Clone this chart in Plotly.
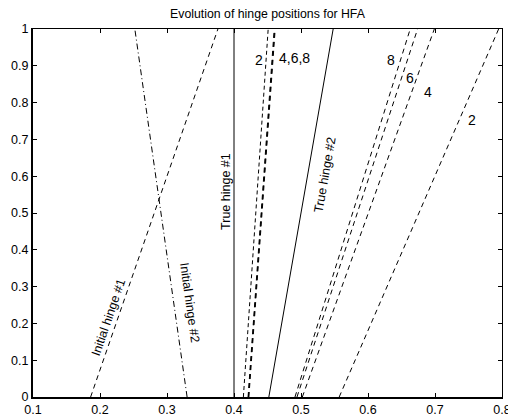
import plotly.graph_objects as go

# ---------------- data ----------------
line_names = [
    "Initial hinge #1", "Initial hinge #2", "True hinge #1", "True hinge #2",
    "Hinge #1 iter 2", "Hinge #1 iter 4", "Hinge #1 iter 6", "Hinge #1 iter 8",
    "Hinge #2 iter 2", "Hinge #2 iter 4", "Hinge #2 iter 6", "Hinge #2 iter 8",
]
x_at_bottom = [0.186, 0.330, 0.400, 0.452, 0.414, 0.4210, 0.4215, 0.4222, 0.557, 0.502, 0.494, 0.491]
x_at_top    = [0.376, 0.252, 0.400, 0.548, 0.451, 0.4600, 0.4608, 0.4615, 0.795, 0.699, 0.674, 0.663]
y_span = [0.0, 1.0]

x_ticks = [0.1, 0.2, 0.3, 0.4, 0.5, 0.6, 0.7, 0.8]
x_tick_labels = ["0.1", "0.2", "0.3", "0.4", "0.5", "0.6", "0.7", "0.8"]
y_ticks = [0, 0.1, 0.2, 0.3, 0.4, 0.5, 0.6, 0.7, 0.8, 0.9, 1]
y_tick_labels = ["0", "0.1", "0.2", "0.3", "0.4", "0.5", "0.6", "0.7", "0.8", "0.9", "1"]

title_text = "Evolution of hinge positions for HFA"

# ---------------- styles ----------------
dashes = ["5px,4px", "6px,3px,1px,3px", "solid", "solid",
          "4px,3px", "5px,4px", "5px,4px", "5px,4px",
          "5px,4px", "5px,4px", "5px,4px", "5px,4px"]
widths = [1, 1, 1, 1, 1, 1, 1, 1, 1, 1, 1, 1]

FONT = "Liberation Sans, Arial, Helvetica, sans-serif"

fig = go.Figure()
for name, xb, xt, d, w in zip(line_names, x_at_bottom, x_at_top, dashes, widths):
    fig.add_trace(go.Scatter(
        x=[xb, xt], y=y_span, mode="lines", name=name,
        line=dict(color="black", width=w, dash=d),
        showlegend=False, hoverinfo="skip",
    ))

# invisible trace for mirrored (top/right) axes
fig.add_trace(go.Scatter(x=[0.1, 0.8], y=[0, 1], xaxis="x2", yaxis="y2",
                         mode="markers", marker=dict(opacity=0),
                         showlegend=False, hoverinfo="skip"))

annotations = [
    dict(text="Initial hinge #1", x=0.212, y=0.216, textangle=-71, size=12.5),
    dict(text="Initial hinge #2", x=0.333, y=0.257, textangle=82, size=12.5),
    dict(text="True hinge #1", x=0.387, y=0.558, textangle=-90, size=12.5),
    dict(text="True hinge #2", x=0.536, y=0.603, textangle=-80, size=12.5),
    dict(text="2", x=0.437, y=0.917, textangle=0, size=14),
    dict(text="4,6,8", x=0.491, y=0.920, textangle=0, size=14),
    dict(text="8", x=0.634, y=0.915, textangle=0, size=14),
    dict(text="6", x=0.663, y=0.868, textangle=0, size=14),
    dict(text="4", x=0.690, y=0.830, textangle=0, size=14),
    dict(text="2", x=0.755, y=0.754, textangle=0, size=14),
]
for a in annotations:
    fig.add_annotation(x=a["x"], y=a["y"], xref="x", yref="y", text=a["text"],
                       textangle=a["textangle"], showarrow=False,
                       font=dict(family=FONT, size=a["size"], color="black"))

axis_common = dict(ticks="inside", ticklen=4, tickcolor="black", tickwidth=1,
                   showgrid=False, zeroline=False, showline=True, linecolor="black",
                   automargin=False)

XR = [0.0999999, 0.8000001]
YR = [-0.0000001, 1.0000001]

fig.update_layout(
    width=508, height=417,
    margin=dict(l=33, r=6, t=29, b=20, pad=0, autoexpand=False),
    paper_bgcolor="white", plot_bgcolor="white",
    font=dict(family=FONT, size=12.5, color="black"),
    title=dict(text=title_text, x=0.5, xref="paper", y=1 - 14 / 417,
               yref="container", yanchor="middle",
               font=dict(family=FONT, size=12.3, color="black")),
    xaxis=dict(range=XR, tickvals=x_ticks, ticktext=x_tick_labels,
               ticklabeloverflow="allow", linewidth=2, **axis_common),
    yaxis=dict(range=YR, tickvals=y_ticks, ticktext=y_tick_labels,
               ticklabeloverflow="allow", linewidth=2, **axis_common),
    xaxis2=dict(range=XR, tickvals=x_ticks, overlaying="x", side="top",
                showticklabels=False, linewidth=1, anchor="y", **axis_common),
    yaxis2=dict(range=YR, tickvals=y_ticks, overlaying="y", side="right",
                showticklabels=False, linewidth=1, anchor="x", **axis_common),
)

fig.write_html("out.html")
